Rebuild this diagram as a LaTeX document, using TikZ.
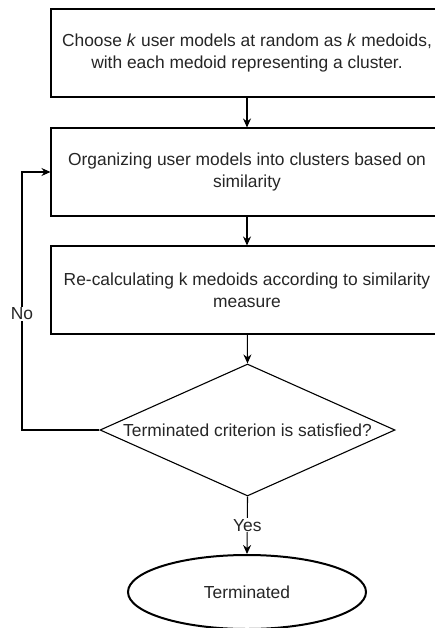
\documentclass[tikz,border=0pt]{standalone}
\usepackage{fontspec}
\setmainfont{Liberation Sans}
\usetikzlibrary{shapes.geometric,arrows.meta}
\begin{document}
\begin{tikzpicture}[x=1pt,y=-1pt,
  every node/.style={font=\fontsize{17.4}{22}\selectfont, text=black!85},
  procbox/.style={draw, line width=1.1pt, minimum width=392pt, minimum height=88pt, align=center, inner sep=0pt},
  decision/.style={draw, line width=1.1pt, diamond, minimum width=295pt, minimum height=132pt, inner sep=0pt, aspect=2.2},
  terminal/.style={draw, line width=2pt, ellipse, minimum width=238pt, minimum height=74pt, inner sep=0pt},
  conn/.style={line width=1.1pt, -{Stealth[length=9pt,width=8pt]}},
  lbl/.style={fill=white, inner sep=1pt}]
\clip (0,0) rectangle (435,628);
\fill[white] (0,0) rectangle (435,628);
\node[procbox] (init) at (247,53) {Choose \textit{k} user models at random as \textit{k} medoids,\\with each medoid representing a cluster.};
\node[procbox] (org) at (247,172) {Organizing user models into clusters based on\\similarity};
\node[procbox] (recalc) at (247,290) {Re-calculating k medoids according to similarity\\measure};
\coordinate (dc) at (247.5,430);
\node[decision] (dec) at (dc) {};
\node at (dc) {Terminated criterion is satisfied?};
\node[terminal] (term) at (247,592) {Terminated};
\coordinate (lc1) at (22,430);
\coordinate (lc2) at (22,172);
\draw[conn] (init) -- (org);
\draw[conn] (org) -- (recalc);
\draw[conn] (recalc) -- (dec.north);
\draw[conn] (dec.south) -- node[lbl] {Yes} (term.north);
\draw[conn] (dec.west) -- (lc1) -- node[lbl, pos=0.45] {No} (lc2) -- (org.west);
\end{tikzpicture}
\end{document}
